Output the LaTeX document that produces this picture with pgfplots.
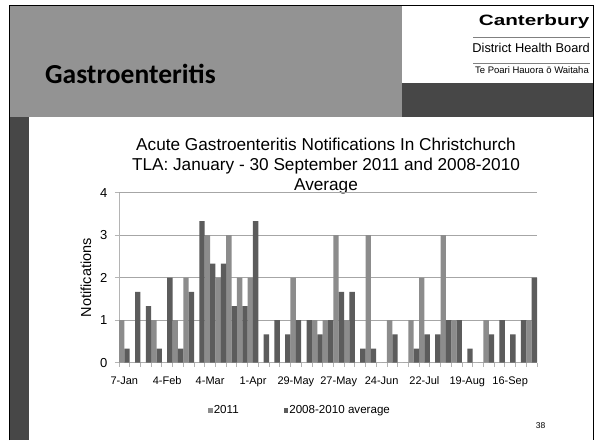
\documentclass[border=0pt]{standalone}
\usepackage{fontspec}
\setmainfont{Liberation Sans}
\newfontfamily\titlefont{Carlito}
\usepackage{pgfplots}
\usepackage{pgfplotstable}
\pgfplotsset{compat=1.18}
\definecolor{lightbar}{HTML}{8C8C8C}
\definecolor{darkbar}{HTML}{5C5C5C}
\definecolor{hdr}{HTML}{939393}
\definecolor{strip}{HTML}{474747}
\definecolor{gridc}{HTML}{A6A6A6}
\definecolor{axc}{HTML}{B4B4B4}
\pgfplotstableread{
x a b
0 1 0.333
1 0 1.667
2 0 1.333
3 1 0.333
4 0 2
5 1 0.333
6 2 1.667
7 0 3.333
8 3 2.333
9 2 2.333
10 3 1.333
11 2 1.333
12 2 3.333
13 0 0.667
14 0 1
15 0 0.667
16 2 1
17 0 1
18 1 0.667
19 1 1
20 3 1.667
21 1 1.667
22 0 0.333
23 3 0.333
24 0 0
25 1 0.667
26 0 0
27 1 0.333
28 2 0.667
29 0 0.667
30 3 1
31 1 1
32 0 0.333
33 0 0
34 1 0.667
35 0 1
36 0 0.667
37 0 1
38 1 2
}\data
\begin{document}
\begin{tikzpicture}[x=1pt,y=1pt]
\useasboundingbox (0,0) rectangle (594,440);
\fill[white] (0,0) rectangle (594,440);
\fill[hdr] (10,323) rectangle (402,434);
\fill[white] (402,357) rectangle (593,434);
\fill[strip] (402,323) rectangle (593,357);
\fill[strip] (10,0) rectangle (29,323);
\draw[black, line width=1pt] (9.5,0) -- (9.5,434.5) -- (593,434.5) -- (593,0);
\node[anchor=base west, inner sep=0pt, font=\titlefont\bfseries\fontsize{27.5}{30}\selectfont] at (45,356) {Gastroenteritis};
\node[anchor=base east, inner sep=0pt] at (589.5,414) {\scalebox{1.38}[1]{\bfseries\fontsize{15}{15}\selectfont Canterbury}};
\draw[gray, line width=0.6pt] (473,403) -- (590,403);
\node[anchor=base east, inner sep=0pt, font=\fontsize{12.8}{13}\selectfont] at (590,387.3) {District Health Board};
\draw[gray, line width=0.6pt] (473,377) -- (590,377);
\node[anchor=base east, inner sep=0pt, font=\fontsize{9.5}{10}\selectfont] at (589,366) {Te Poari Hauora ō Waitaha};
\node[anchor=base, inner sep=0pt, font=\fontsize{17.2}{18}\selectfont] at (326,289.3) {Acute Gastroenteritis Notifications In Christchurch};
\node[anchor=base, inner sep=0pt, font=\fontsize{17.2}{18}\selectfont] at (326,269.3) {TLA: January - 30 September 2011 and 2008-2010};
\node[anchor=base, inner sep=0pt, font=\fontsize{17.2}{18}\selectfont] at (326,249.3) {Average};
\node[inner sep=0pt, font=\fontsize{8.5}{9}\selectfont] at (540.5,14) {38};
\begin{axis}[
  at={(119pt,77.3pt)}, anchor=south west,
  scale only axis, width=418pt, height=170pt,
  xmin=-0.5, xmax=38.5, ymin=0, ymax=4,
  ybar=0pt, bar width=5.36pt,
  axis x line*=bottom, axis y line*=left,
  axis line style={draw=axc, line width=0.8pt},
  tick align=outside, major tick length=4pt,
  tick style={draw=axc, line width=0.8pt},
  xtick={-0.5,0.5,...,38.5}, xticklabels={},
  extra x ticks={0,4,...,36},
  extra x tick labels={7-Jan,4-Feb,4-Mar,1-Apr,29-May,27-May,24-Jun,22-Jul,19-Aug,16-Sep},
  extra x tick style={major tick length=0pt, grid=none},
  xticklabel style={font=\fontsize{11}{11}\selectfont, anchor=base, yshift=-21.3pt},
  ytick={0,1,2,3,4},
  yticklabel style={font=\fontsize{13}{13}\selectfont, xshift=-4pt},
  /pgf/number format/assume math mode=true,
  ymajorgrids, grid style={draw=gridc, line width=0.8pt},
  ylabel={Notifications},
  ylabel style={at={(axis description cs:-0.079,0.5)}, anchor=center, font=\fontsize{14.5}{14.5}\selectfont},
  legend columns=2,
  legend style={at={(axis description cs:0.2057,-0.278)}, anchor=west, draw=none, fill=none,
    font=\fontsize{11.6}{12}\selectfont, nodes={inner xsep=1pt, inner ysep=0pt},
    /tikz/every even column/.append style={column sep=44pt}},
]
\addplot[fill=lightbar, draw=none, legend image code/.code={\fill[lightbar] (0pt,-2.6pt) rectangle (4.6pt,2.0pt);}] table[x=x, y=a] {\data};
\addplot[fill=darkbar, draw=none, legend image code/.code={\fill[darkbar] (0pt,-2.6pt) rectangle (4.6pt,2.0pt);}] table[x=x, y=b] {\data};
\legend{2011, 2008-2010 average}
\end{axis}
\end{tikzpicture}
\end{document}
